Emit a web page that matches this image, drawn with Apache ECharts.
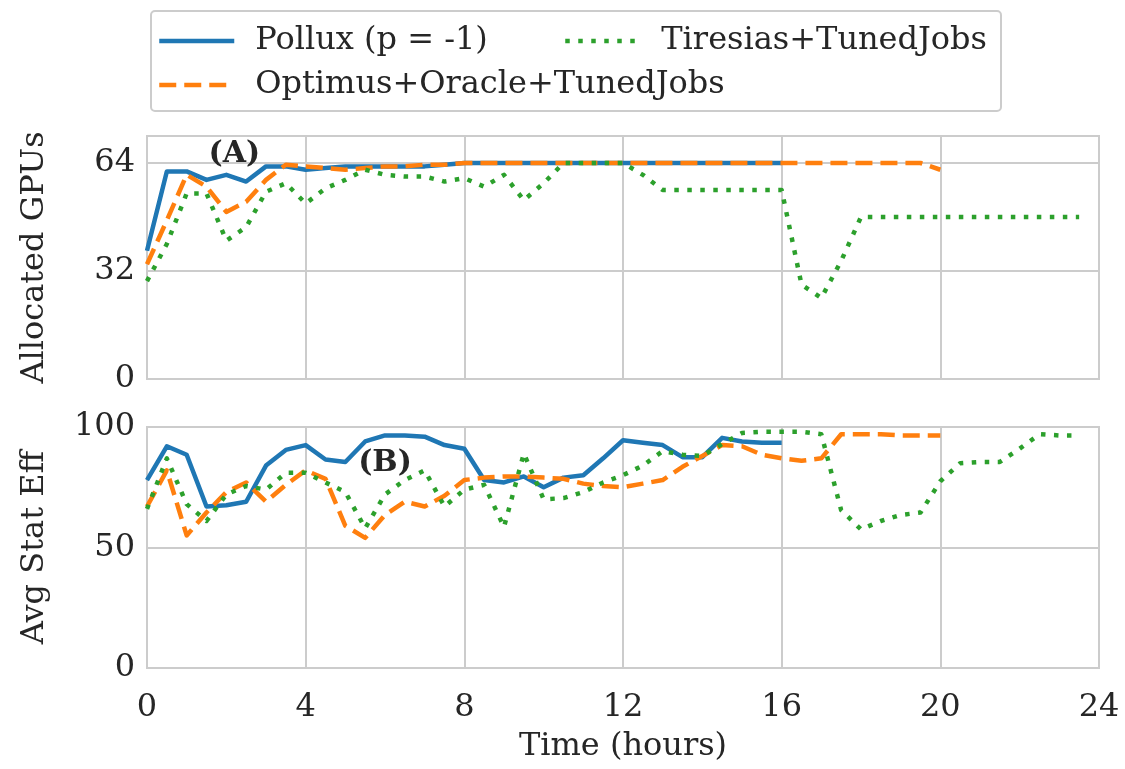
<!DOCTYPE html>
<html>
<head>
<meta charset="utf-8">
<script src="https://cdn.jsdelivr.net/npm/echarts@6/dist/echarts.min.js"></script>
<style>
  html, body { margin: 0; padding: 0; background: #fff; }
  #chart { width: 1125px; height: 769px; }
</style>
</head>
<body>
<div id="chart"></div>
<script>
// time steps, half-hour resolution
var hours = [0, 0.5, 1, 1.5, 2, 2.5, 3, 3.5, 4, 4.5, 5, 5.5, 6, 6.5, 7, 7.5, 8, 8.5, 9, 9.5,
  10, 10.5, 11, 11.5, 12, 12.5, 13, 13.5, 14, 14.5, 15, 15.5, 16, 16.5, 17, 17.5, 18, 18.5, 19, 19.5,
  20, 20.5, 21, 21.5, 22, 22.5, 23, 23.5];

var seriesNames = ["Pollux (p = -1)", "Optimus+Oracle+TunedJobs", "Tiresias+TunedJobs"];

// (A) allocated GPUs
var polluxGpus = [38, 61.5, 61.5, 59, 60.5, 58.5, 63, 63, 62, 62.5, 63, 63, 63, 63, 63, 63.5, 64,
  64, 64, 64, 64, 64, 64, 64, 64, 64, 64, 64, 64, 64, 64, 64, 64];
var optimusGpus = [34, 47, 60.5, 57, 49.5, 52.5, 59, 63.5, 63, 62.5, 62, 62.5, 63, 63, 63.5, 63.5, 64,
  64, 64, 64, 64, 64, 64, 64, 64, 64, 64, 64, 64, 64, 64, 64, 64, 64, 64, 64, 64, 64, 64, 64, 62];
var tiresiasGpus = [29, 40, 55, 55, 41, 45, 55.5, 58, 52, 56.5, 59, 62, 60.5, 60, 60, 58.5, 59.5,
  57, 60.5, 53, 58, 64, 64, 64, 64, 60.5, 56, 56, 56, 56, 56, 56, 56, 28, 24, 35, 48,
  48, 48, 48, 48, 48, 48, 48, 48, 48, 48, 48];

// (B) average statistical efficiency
var polluxEff = [78, 92, 88.5, 67, 67.5, 69, 84, 90.5, 92.5, 86.5, 85.5, 94, 96.5, 96.5, 96, 92.5, 91,
  78, 77, 79.5, 75, 79, 80, 87, 94.5, 93.5, 92.5, 87.5, 87.5, 95.5, 94, 93.5, 93.5];
var optimusEff = [67, 82, 55, 64.5, 73, 77, 69, 76, 82, 78.5, 59, 54, 63.5, 69, 67, 71.5, 78,
  79, 79.5, 79.5, 79, 78.5, 76.5, 75.5, 75, 76.5, 78, 83.5, 88, 92.5, 92, 88.5, 87, 86, 87,
  97, 97, 97, 96.5, 96.5, 96.5];
var tiresiasEff = [66, 87, 68, 61, 72, 75.5, 74, 81, 81, 77, 73, 58, 72, 78, 82, 67, 74,
  76, 58.5, 89, 70, 70.5, 73, 77, 80, 84, 90, 88.5, 88, 93, 97.5, 98, 98, 98, 97, 65.5, 57.5,
  61, 63.5, 64.5, 77.5, 85, 85.5, 85.5, 91, 97, 96.5, 96.5];

var gpuTicks = [0, 32, 64];
var effTicks = [0, 50, 100];

function pairs(vals) {
  return vals.map(function (v, i) { return [hours[i], v]; });
}

var FONT = "DejaVu Serif";
var FS = 32;
var TXT = "#262626";
var GRIDC = "#cccccc";
var colors = ["#1f77b4", "#ff7f0e", "#2ca02c"];
var styles = ["solid", [17, 8], [4.5, 8.5]];

var chart = echarts.init(document.getElementById("chart"));

function lineSeries(k, vals, axis) {
  return {
    name: seriesNames[k],
    type: "line",
    xAxisIndex: axis,
    yAxisIndex: axis,
    data: pairs(vals),
    symbol: "none",
    z: 2 + k,
    lineStyle: { color: colors[k], width: 4.5, type: styles[k], cap: "butt", join: "round" },
    itemStyle: { color: colors[k] },
    animation: false
  };
}

function note(text, coord) {
  return {
    symbol: "rect",
    symbolSize: 1,
    itemStyle: { color: "transparent" },
    label: {
      show: true, position: "inside", formatter: text,
      fontFamily: FONT, fontWeight: "bold", fontSize: 30, color: TXT
    },
    data: [{ coord: coord }]
  };
}

var xBase = {
  type: "value", min: 0, max: 24, interval: 4,
  axisLine: { show: false }, axisTick: { show: false },
  splitLine: { show: true, lineStyle: { color: GRIDC, width: 2 } }
};

function yAxis(idx, max, ticks, name, gap) {
  return {
    type: "value", gridIndex: idx, min: 0, max: max, interval: ticks[1],
    name: name, nameLocation: "middle", nameGap: gap,
    nameTextStyle: { fontFamily: FONT, fontSize: FS, color: TXT },
    axisLine: { show: false }, axisTick: { show: false },
    axisLabel: {
      fontFamily: FONT, fontSize: FS, color: TXT, margin: 12,
      formatter: function (v) { return ticks.indexOf(v) >= 0 ? v : ""; }
    },
    splitLine: { show: true, lineStyle: { color: GRIDC, width: 2 } }
  };
}

var s1 = lineSeries(0, polluxGpus, 0);
s1.markPoint = note("(A)", [2.2, 66.5]);
var s4 = lineSeries(0, polluxEff, 1);
s4.markPoint = note("(B)", [6.0, 85]);

var legendBase = {
  orient: "vertical", top: 20, itemGap: 12,
  itemWidth: 75, itemHeight: 4,
  textStyle: { fontFamily: FONT, fontSize: FS, color: TXT, padding: [0, 0, 0, 16] },
  itemStyle: { opacity: 0 },
  lineStyle: { width: 4.5 }
};

var option = {
  backgroundColor: "#fff",
  animation: false,
  grid: [
    { left: 147, right: 26, top: 136, height: 243, show: true, borderColor: GRIDC, borderWidth: 2 },
    { left: 147, right: 26, top: 427, height: 241, show: true, borderColor: GRIDC, borderWidth: 2 }
  ],
  xAxis: [
    Object.assign({}, xBase, { gridIndex: 0, axisLabel: { show: false } }),
    Object.assign({}, xBase, {
      gridIndex: 1,
      name: "Time (hours)", nameLocation: "middle", nameGap: 63,
      nameTextStyle: { fontFamily: FONT, fontSize: FS, color: TXT },
      axisLabel: { fontFamily: FONT, fontSize: FS, color: TXT, margin: 24 }
    })
  ],
  yAxis: [
    yAxis(0, 72, gpuTicks, "Allocated GPUs", 96),
    yAxis(1, 100, effTicks, "Avg Stat Eff", 96)
  ],
  legend: [
    Object.assign({}, legendBase, { left: 152, data: [seriesNames[0], seriesNames[1]] }),
    Object.assign({}, legendBase, { left: 558, data: [seriesNames[2]] })
  ],
  graphic: [
    {
      type: "rect", left: 150, top: 10, z: -1,
      shape: { width: 850, height: 100, r: 4 },
      style: { fill: "#fff", stroke: GRIDC, lineWidth: 2 }
    }
  ],
  series: [
    s1,
    lineSeries(1, optimusGpus, 0),
    lineSeries(2, tiresiasGpus, 0),
    s4,
    lineSeries(1, optimusEff, 1),
    lineSeries(2, tiresiasEff, 1)
  ]
};

chart.setOption(option);
</script>
</body>
</html>
